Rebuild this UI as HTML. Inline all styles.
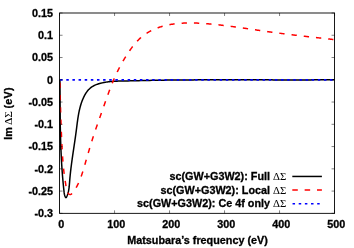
<!DOCTYPE html>
<html><head><meta charset="utf-8"><style>
html,body{margin:0;padding:0;background:#fff;}
svg{display:block;will-change:transform;opacity:0.999}
text{font-family:"Liberation Sans",sans-serif;font-weight:bold;font-size:10.8px;fill:#000;stroke:#000;stroke-width:0.3px}
.sym{font-family:"Liberation Serif",serif;font-weight:normal;font-size:10.85px;stroke:none}
</style></head><body>
<svg width="354" height="248" viewBox="0 0 354 248">
<rect width="354" height="248" fill="#fff"/>
<g><text x="61.35" y="228.2" text-anchor="middle">0</text><text x="116.35" y="228.2" text-anchor="middle">100</text><text x="171.35" y="228.2" text-anchor="middle">200</text><text x="226.35" y="228.2" text-anchor="middle">300</text><text x="281.35" y="228.2" text-anchor="middle">400</text><text x="336.35" y="228.2" text-anchor="middle">500</text><text x="53" y="16.90" text-anchor="end">0.15</text><text x="53" y="39.16" text-anchor="end">0.1</text><text x="53" y="61.42" text-anchor="end">0.05</text><text x="53" y="83.68" text-anchor="end">0</text><text x="53" y="105.94" text-anchor="end">-0.05</text><text x="53" y="128.21" text-anchor="end">-0.1</text><text x="53" y="150.47" text-anchor="end">-0.15</text><text x="53" y="172.73" text-anchor="end">-0.2</text><text x="53" y="194.99" text-anchor="end">-0.25</text><text x="53" y="217.25" text-anchor="end">-0.3</text></g>
<text x="197.5" y="243.5" text-anchor="middle">Matsubara’s frequency (eV)</text>
<text transform="translate(12.2,113.4) rotate(-90)" text-anchor="middle">Im <tspan class="sym" dx="-1" style="font-size:11.4px">ΔΣ</tspan><tspan dx="-0.6" style="letter-spacing:0.25px"> (eV)</tspan></text>
<g fill="none" stroke-width="1.5">
<path d="M59.85,79.76 L59.86,80.41 L59.86,81.07 L59.87,81.73 L59.88,82.38 L59.88,83.04 L59.89,83.70 L59.89,84.35 L59.90,85.01 L59.90,85.67 L59.90,86.32 L59.91,86.98 L59.91,87.64 L59.92,88.30 L59.92,88.95 L59.93,89.61 L59.93,90.27 L59.94,90.93 L59.94,91.58 L59.94,92.24 L59.95,92.90 L59.95,93.56 L59.96,94.22 L59.96,94.87 L59.97,95.53 L59.97,96.19 L59.97,96.85 L59.98,97.51 L59.98,98.16 L59.99,98.82 L59.99,99.48 L60.00,100.14 L60.00,100.80 L60.01,101.46 L60.01,102.11 L60.01,102.77 L60.02,103.43 L60.02,104.09 L60.03,104.75 L60.04,105.41 L60.04,106.07 L60.05,106.73 L60.05,107.38 L60.06,108.04 L60.06,108.70 L60.07,109.36 L60.07,110.02 L60.08,110.68 L60.09,111.34 L60.09,112.00 L60.10,112.65 L60.11,113.31 L60.12,113.97 L60.12,114.63 L60.13,115.29 L60.14,115.95 L60.15,116.61 L60.15,117.27 L60.16,117.93 L60.17,118.59 L60.18,119.24 L60.19,119.90 L60.20,120.56 L60.21,121.22 L60.22,121.88 L60.23,122.54 L60.24,123.20 L60.25,123.86 L60.26,124.52 L60.27,125.17 L60.28,125.83 L60.29,126.49 L60.31,127.15 L60.32,127.81 L60.33,128.47 L60.34,129.13 L60.36,129.79 L60.37,130.44 L60.39,131.10 L60.40,131.76 L60.42,132.42 L60.43,133.08 L60.45,133.74 L60.46,134.40 L60.48,135.05 L60.50,135.71 L60.51,136.37 L60.53,137.03 L60.55,137.69 L60.57,138.35 L60.58,139.00 L60.60,139.66 L60.62,140.32 L60.64,140.98 L60.66,141.64 L60.69,142.29 L60.71,142.95 L60.73,143.61 L60.75,144.27 L60.77,144.92 L60.80,145.58 L60.82,146.24 L60.85,146.90 L60.87,147.55 L60.90,148.21 L60.92,148.87 L60.95,149.53 L60.97,150.18 L61.00,150.84 L61.03,151.50 L61.06,152.15 L61.09,152.81 L61.12,153.47 L61.15,154.12 L61.18,154.78 L61.21,155.44 L61.24,156.09 L61.27,156.75 L61.31,157.40 L61.34,158.06 L61.38,158.72 L61.41,159.37 L61.45,160.03 L61.48,160.68 L61.52,161.34 L61.56,161.99 L61.60,162.65 L61.63,163.31 L61.67,163.96 L61.71,164.62 L61.75,165.27 L61.80,165.93 L61.84,166.58 L61.88,167.24 L61.92,167.89 L61.97,168.55 L62.01,169.20 L62.06,169.86 L62.11,170.51 L62.15,171.17 L62.20,171.82 L62.25,172.48 L62.30,173.14 L62.35,173.79 L62.40,174.45 L62.45,175.10 L62.51,175.76 L62.56,176.42 L62.61,177.07 L62.67,177.73 L62.73,178.39 L62.78,179.05 L62.84,179.70 L62.90,180.36 L62.96,181.02 L63.02,181.68 L63.08,182.34 L63.14,182.99 L63.20,183.65 L63.27,184.31 L63.33,184.97 L63.40,185.63 L63.47,186.29 L63.53,186.95 L63.60,187.61 L63.67,188.28 L63.74,188.94 L63.81,189.60 L63.88,190.26 L63.96,190.93 L64.03,191.59 L64.11,192.25 L64.19,192.92 L64.29,193.58 L64.37,194.03 L64.46,194.48 L64.57,194.92 L64.69,195.37 L64.83,195.83 L64.99,196.28 L65.18,196.72 L65.48,197.28 L65.89,197.59 L66.30,197.34 L66.60,196.89 L66.88,196.31 L67.14,195.70 L67.38,195.08 L67.60,194.46 L67.81,193.83 L68.00,193.19 L68.17,192.56 L68.33,191.92 L68.48,191.27 L68.61,190.63 L68.73,189.98 L68.84,189.33 L68.94,188.68 L69.03,188.02 L69.11,187.36 L69.19,186.70 L69.25,186.04 L69.32,185.38 L69.38,184.72 L69.43,184.06 L69.48,183.39 L69.54,182.73 L69.59,182.07 L69.64,181.40 L69.69,180.74 L69.74,180.08 L69.80,179.42 L69.85,178.75 L69.91,178.09 L69.97,177.43 L70.04,176.77 L70.10,176.11 L70.16,175.46 L70.23,174.80 L70.30,174.14 L70.37,173.48 L70.44,172.83 L70.51,172.17 L70.58,171.52 L70.66,170.86 L70.73,170.20 L70.81,169.55 L70.89,168.90 L70.96,168.24 L71.04,167.59 L71.13,166.94 L71.21,166.28 L71.29,165.63 L71.38,164.98 L71.46,164.33 L71.55,163.68 L71.63,163.02 L71.72,162.37 L71.81,161.72 L71.90,161.07 L71.99,160.42 L72.08,159.77 L72.17,159.12 L72.26,158.47 L72.35,157.82 L72.44,157.17 L72.54,156.52 L72.63,155.87 L72.72,155.22 L72.82,154.58 L72.91,153.93 L73.01,153.28 L73.10,152.63 L73.20,151.98 L73.30,151.33 L73.39,150.68 L73.49,150.03 L73.59,149.38 L73.68,148.74 L73.78,148.09 L73.88,147.44 L73.97,146.79 L74.07,146.14 L74.16,145.49 L74.26,144.84 L74.36,144.19 L74.45,143.54 L74.55,142.89 L74.65,142.24 L74.74,141.59 L74.84,140.94 L74.93,140.29 L75.02,139.64 L75.12,138.99 L75.21,138.34 L75.31,137.69 L75.40,137.04 L75.49,136.38 L75.58,135.73 L75.67,135.08 L75.76,134.43 L75.85,133.77 L75.94,133.12 L76.03,132.47 L76.11,131.81 L76.20,131.16 L76.29,130.50 L76.37,129.85 L76.45,129.19 L76.54,128.54 L76.62,127.88 L76.70,127.22 L76.79,126.57 L76.87,125.91 L76.95,125.25 L77.03,124.59 L77.12,123.94 L77.20,123.28 L77.29,122.63 L77.38,121.97 L77.47,121.31 L77.56,120.66 L77.65,120.00 L77.74,119.35 L77.84,118.69 L77.94,118.04 L78.04,117.39 L78.14,116.74 L78.25,116.09 L78.36,115.44 L78.47,114.79 L78.59,114.14 L78.70,113.49 L78.83,112.84 L78.96,112.20 L79.09,111.56 L79.22,110.91 L79.36,110.27 L79.51,109.63 L79.66,108.99 L79.81,108.36 L79.98,107.72 L80.14,107.09 L80.31,106.46 L80.49,105.83 L80.67,105.20 L80.86,104.57 L81.06,103.95 L81.26,103.32 L81.47,102.70 L81.69,102.09 L81.91,101.47 L82.14,100.85 L82.38,100.24 L82.62,99.63 L82.88,99.03 L83.14,98.42 L83.41,97.82 L83.69,97.22 L83.97,96.63 L84.27,96.04 L84.57,95.45 L84.89,94.88 L85.22,94.31 L85.55,93.74 L85.90,93.19 L86.26,92.64 L86.63,92.11 L87.02,91.58 L87.41,91.07 L87.82,90.57 L88.24,90.08 L88.68,89.61 L89.13,89.15 L89.59,88.70 L90.07,88.27 L90.56,87.86 L91.07,87.46 L91.59,87.08 L92.13,86.72 L92.68,86.38 L93.25,86.05 L93.83,85.74 L94.42,85.45 L95.02,85.17 L95.63,84.90 L96.25,84.65 L96.87,84.41 L97.51,84.18 L98.15,83.97 L98.58,83.83 L99.01,83.70 L99.44,83.58 L99.87,83.45 L100.31,83.34 L100.75,83.22 L101.19,83.11 L101.62,83.01 L102.28,82.86 L102.94,82.72 L103.59,82.58 L104.25,82.45 L104.91,82.34 L105.56,82.22 L106.22,82.12 L106.87,82.02 L107.53,81.92 L108.18,81.84 L108.84,81.76 L109.49,81.68 L110.14,81.61 L110.80,81.55 L111.45,81.49 L112.10,81.43 L112.75,81.38 L113.41,81.34 L114.06,81.29 L114.71,81.25 L115.36,81.22 L116.02,81.19 L116.67,81.16 L117.32,81.13 L117.98,81.11 L118.63,81.09 L119.28,81.07 L121.44,81.01 L123.60,80.97 L125.76,80.93 L127.92,80.89 L130.09,80.84 L132.26,80.79 L134.44,80.75 L136.61,80.70 L138.79,80.65 L140.96,80.60 L143.14,80.55 L145.32,80.50 L147.50,80.45 L149.68,80.41 L151.85,80.37 L154.03,80.33 L156.21,80.29 L158.38,80.25 L160.56,80.22 L162.74,80.18 L164.91,80.15 L167.09,80.12 L169.27,80.09 L171.44,80.07 L173.62,80.04 L175.79,80.02 L177.97,79.99 L180.14,79.97 L182.32,79.95 L184.49,79.94 L186.67,79.92 L188.84,79.90 L191.02,79.89 L193.19,79.88 L195.36,79.86 L197.54,79.85 L199.71,79.84 L201.89,79.84 L204.06,79.83 L206.23,79.82 L208.41,79.81 L210.58,79.81 L212.75,79.81 L214.93,79.80 L217.10,79.80 L219.27,79.80 L221.44,79.80 L223.62,79.80 L225.79,79.80 L227.96,79.80 L230.14,79.80 L232.31,79.80 L234.48,79.80 L236.65,79.80 L238.83,79.81 L241.00,79.81 L243.17,79.81 L245.35,79.82 L247.52,79.82 L249.69,79.83 L251.86,79.83 L254.04,79.84 L256.21,79.84 L258.38,79.85 L260.56,79.85 L262.73,79.86 L264.90,79.86 L267.07,79.87 L269.25,79.87 L271.42,79.87 L273.59,79.88 L275.77,79.88 L277.94,79.89 L280.12,79.89 L282.29,79.89 L284.46,79.89 L286.64,79.90 L288.81,79.90 L290.98,79.90 L293.16,79.90 L295.33,79.90 L297.51,79.90 L299.68,79.90 L301.86,79.89 L304.03,79.89 L306.21,79.89 L308.38,79.88 L310.56,79.88 L312.73,79.87 L314.91,79.86 L317.09,79.85 L319.26,79.84 L321.44,79.83 L323.62,79.82 L325.79,79.81 L327.97,79.80 L330.15,79.78 L332.32,79.76 L334.50,79.75 L334.50,79.75" stroke="#000" stroke-width="1.5"/>
<path d="M59.91,79.67 L59.92,80.33 L59.93,80.98 L59.95,81.64 L59.96,82.30 L59.97,82.95 L59.98,83.61 L59.99,84.26 L60.00,84.92 L60.02,85.57 L60.03,86.22 L60.04,86.88 L60.05,87.53 L60.06,88.19 L60.08,88.84 L60.09,89.49 L60.10,90.15 L60.12,90.80 L60.13,91.45 L60.14,92.10 L60.16,92.76 L60.17,93.41 L60.18,94.06 L60.20,94.71 L60.21,95.36 L60.23,96.02 L60.24,96.67 L60.26,97.32 L60.27,97.97 L60.29,98.62 L60.30,99.27 L60.32,99.92 L60.33,100.58 L60.35,101.23 L60.37,101.88 L60.38,102.53 L60.40,103.18 L60.41,103.83 L60.43,104.48 L60.45,105.13 L60.47,105.78 L60.48,106.43 L60.50,107.08 L60.52,107.73 L60.54,108.38 L60.55,109.03 L60.57,109.68 L60.59,110.33 L60.61,110.98 L60.63,111.63 L60.65,112.28 L60.67,112.93 L60.69,113.58 L60.71,114.23 L60.73,114.88 L60.75,115.53 L60.77,116.18 L60.79,116.83 L60.81,117.48 L60.83,118.13 L60.85,118.78 L60.87,119.43 L60.90,120.08 L60.92,120.73 L60.94,121.38 L60.96,122.03 L60.99,122.68 L61.01,123.33 L61.03,123.98 L61.06,124.63 L61.08,125.28 L61.10,125.93 L61.13,126.59 L61.15,127.24 L61.18,127.89 L61.20,128.54 L61.23,129.19 L61.25,129.84 L61.28,130.49 L61.30,131.14 L61.33,131.80 L61.36,132.45 L61.38,133.10 L61.41,133.75 L61.44,134.40 L61.46,135.06 L61.49,135.71 L61.52,136.36 L61.55,137.01 L61.58,137.67 L61.61,138.32 L61.63,138.97 L61.66,139.63 L61.69,140.28 L61.72,140.94 L61.75,141.59 L61.78,142.24 L61.82,142.90 L61.85,143.55 L61.88,144.21 L61.91,144.86 L61.94,145.52 L61.97,146.18 L62.01,146.83 L62.04,147.49 L62.07,148.14 L62.11,148.80 L62.14,149.45 L62.18,150.11 L62.21,150.76 L62.25,151.42 L62.29,152.07 L62.33,152.73 L62.36,153.38 L62.40,154.04 L62.44,154.69 L62.49,155.35 L62.53,156.00 L62.57,156.65 L62.61,157.30 L62.66,157.96 L62.70,158.61 L62.75,159.26 L62.80,159.91 L62.85,160.56 L62.90,161.20 L62.95,161.85 L63.00,162.50 L63.06,163.15 L63.11,163.79 L63.17,164.44 L63.22,165.08 L63.28,165.72 L63.34,166.36 L63.41,167.00 L63.47,167.64 L63.53,168.28 L63.60,168.92 L63.67,169.56 L63.74,170.19 L63.81,170.82 L63.88,171.46 L63.96,172.09 L64.03,172.72 L64.11,173.35 L64.19,173.97 L64.27,174.60 L64.36,175.23 L64.44,175.85 L64.53,176.48 L64.62,177.11 L64.71,177.74 L64.80,178.38 L64.90,179.02 L64.99,179.66 L65.09,180.31 L65.19,180.97 L65.30,181.63 L65.40,182.30 L65.51,182.98 L65.62,183.67 L65.73,184.37 L65.85,185.08 L65.96,185.80 L66.08,186.53 L66.20,187.27 L66.34,188.02 L66.48,188.76 L66.64,189.49 L66.82,190.20 L67.03,190.89 L67.26,191.54 L67.53,192.16 L67.83,192.74 L68.18,193.26 L68.57,193.72 L69.01,194.12 L69.48,194.41 L69.96,194.58 L70.44,194.58 L70.89,194.40 L71.33,194.07 L71.75,193.65 L72.15,193.19 L72.55,192.73 L72.94,192.26 L73.33,191.78 L73.70,191.29 L74.07,190.79 L74.42,190.29 L74.77,189.78 L75.12,189.26 L75.45,188.74 L75.78,188.21 L76.10,187.67 L76.42,187.13 L76.73,186.58 L77.03,186.03 L77.33,185.47 L77.62,184.91 L77.90,184.34 L78.18,183.77 L78.45,183.19 L78.72,182.60 L78.98,182.02 L79.24,181.42 L79.49,180.83 L79.74,180.23 L79.98,179.63 L80.22,179.02 L80.45,178.41 L80.68,177.80 L80.91,177.18 L81.13,176.56 L81.35,175.94 L81.56,175.32 L81.78,174.69 L81.99,174.07 L82.19,173.44 L82.40,172.81 L82.60,172.17 L82.80,171.54 L83.00,170.91 L83.19,170.27 L83.38,169.64 L83.58,169.00 L83.77,168.37 L83.95,167.73 L84.14,167.09 L84.33,166.46 L84.51,165.82 L84.70,165.19 L84.88,164.56 L85.07,163.92 L85.25,163.29 L85.44,162.66 L85.62,162.03 L85.80,161.40 L85.98,160.77 L86.17,160.14 L86.35,159.52 L86.53,158.89 L86.71,158.26 L86.89,157.64 L87.08,157.01 L87.26,156.39 L87.44,155.77 L87.62,155.14 L87.80,154.52 L87.99,153.90 L88.17,153.28 L88.35,152.66 L88.53,152.04 L88.71,151.42 L88.90,150.80 L89.08,150.18 L89.27,149.56 L89.45,148.94 L89.63,148.32 L89.82,147.71 L90.00,147.09 L90.19,146.47 L90.38,145.85 L90.56,145.24 L90.75,144.62 L90.94,144.01 L91.13,143.39 L91.32,142.77 L91.51,142.16 L91.70,141.54 L91.89,140.93 L92.09,140.31 L92.28,139.69 L92.48,139.08 L92.67,138.46 L92.87,137.85 L93.07,137.23 L93.27,136.62 L93.47,136.00 L93.67,135.38 L93.87,134.77 L94.07,134.15 L94.28,133.54 L94.48,132.92 L94.69,132.30 L94.89,131.69 L95.10,131.07 L95.31,130.45 L95.52,129.84 L95.73,129.22 L95.94,128.61 L96.15,127.99 L96.36,127.37 L96.57,126.76 L96.79,126.14 L97.00,125.52 L97.21,124.91 L97.43,124.29 L97.64,123.67 L97.86,123.06 L98.07,122.44 L98.29,121.82 L98.51,121.21 L98.72,120.59 L98.94,119.97 L99.16,119.36 L99.38,118.74 L99.59,118.12 L99.81,117.51 L100.03,116.89 L100.25,116.28 L100.47,115.66 L100.69,115.04 L100.91,114.43 L101.13,113.81 L101.34,113.19 L101.56,112.58 L101.78,111.96 L102.00,111.35 L102.22,110.73 L102.44,110.11 L102.66,109.50 L102.87,108.88 L103.09,108.27 L103.31,107.65 L103.53,107.04 L103.75,106.42 L103.96,105.81 L104.18,105.19 L104.40,104.58 L104.61,103.96 L104.83,103.35 L105.04,102.73 L105.26,102.12 L105.48,101.50 L105.69,100.89 L105.91,100.27 L106.13,99.66 L106.34,99.05 L106.56,98.43 L106.78,97.82 L107.00,97.21 L107.21,96.60 L107.43,95.98 L107.65,95.37 L107.87,94.76 L108.09,94.15 L108.32,93.54 L108.54,92.93 L108.76,92.32 L108.99,91.71 L109.21,91.10 L109.44,90.49 L109.67,89.88 L109.89,89.27 L110.12,88.67 L110.36,88.06 L110.59,87.45 L110.82,86.85 L111.06,86.24 L111.29,85.64 L111.53,85.03 L111.77,84.43 L112.02,83.83 L112.26,83.23 L112.50,82.62 L112.75,82.02 L113.00,81.42 L113.25,80.82 L113.50,80.22 L113.76,79.63 L114.02,79.03 L114.28,78.43 L114.54,77.84 L114.80,77.24 L115.07,76.65 L115.34,76.05 L115.61,75.46 L115.88,74.87 L116.15,74.28 L116.43,73.69 L116.71,73.10 L116.99,72.51 L117.28,71.92 L117.56,71.33 L117.85,70.75 L118.14,70.16 L118.43,69.58 L118.73,69.00 L119.03,68.42 L119.33,67.84 L119.63,67.26 L119.93,66.68 L120.24,66.10 L120.55,65.53 L120.86,64.95 L121.17,64.38 L121.49,63.81 L121.81,63.24 L122.13,62.67 L122.45,62.10 L122.77,61.53 L123.10,60.97 L123.43,60.40 L123.76,59.84 L124.10,59.28 L124.43,58.72 L124.77,58.16 L125.11,57.61 L125.46,57.05 L125.80,56.50 L126.15,55.94 L126.50,55.39 L126.85,54.84 L127.21,54.30 L127.57,53.75 L127.93,53.21 L128.29,52.66 L128.65,52.12 L129.02,51.58 L129.39,51.05 L129.76,50.51 L130.13,49.98 L130.51,49.45 L130.89,48.92 L131.27,48.39 L131.66,47.86 L132.04,47.34 L132.44,46.82 L132.83,46.31 L133.23,45.79 L133.63,45.28 L134.04,44.78 L134.45,44.27 L134.86,43.78 L135.28,43.28 L135.71,42.79 L136.14,42.31 L136.57,41.82 L137.01,41.35 L137.45,40.88 L137.90,40.41 L138.36,39.95 L138.82,39.49 L139.28,39.04 L139.76,38.60 L140.23,38.16 L140.72,37.73 L141.21,37.30 L141.71,36.88 L142.21,36.47 L142.72,36.07 L143.24,35.67 L143.76,35.27 L144.29,34.89 L144.82,34.51 L145.36,34.13 L145.90,33.77 L146.44,33.41 L147.00,33.05 L147.55,32.71 L148.11,32.37 L148.67,32.04 L149.24,31.71 L149.81,31.40 L150.39,31.09 L150.96,30.78 L151.54,30.49 L152.13,30.20 L152.71,29.91 L153.30,29.64 L153.89,29.37 L154.49,29.11 L155.08,28.85 L155.68,28.61 L156.28,28.36 L156.89,28.13 L157.49,27.90 L158.10,27.68 L158.71,27.46 L159.32,27.25 L159.94,27.05 L160.56,26.85 L161.17,26.66 L161.80,26.47 L162.42,26.29 L163.04,26.12 L163.67,25.95 L164.30,25.79 L164.93,25.63 L165.56,25.48 L166.19,25.33 L166.82,25.19 L167.46,25.05 L168.10,24.92 L168.74,24.79 L169.37,24.67 L170.02,24.56 L170.66,24.44 L171.30,24.34 L171.94,24.23 L172.59,24.14 L173.23,24.04 L173.88,23.96 L174.53,23.87 L175.17,23.79 L175.82,23.72 L176.47,23.64 L177.12,23.58 L177.77,23.51 L178.42,23.45 L179.07,23.40 L179.72,23.34 L180.37,23.30 L181.02,23.25 L181.67,23.21 L182.32,23.17 L182.98,23.14 L183.63,23.10 L184.28,23.08 L184.93,23.05 L185.58,23.03 L186.23,23.01 L186.88,23.00 L187.53,22.98 L188.18,22.97 L188.84,22.97 L189.49,22.96 L190.14,22.96 L190.79,22.96 L191.44,22.97 L192.09,22.97 L192.74,22.98 L193.39,23.00 L194.04,23.01 L194.69,23.03 L195.35,23.05 L196.00,23.07 L196.65,23.09 L197.30,23.12 L197.95,23.15 L198.60,23.18 L199.25,23.21 L199.90,23.24 L200.55,23.28 L201.20,23.32 L201.85,23.36 L202.50,23.40 L203.15,23.44 L203.80,23.49 L204.45,23.53 L205.10,23.58 L205.75,23.63 L206.40,23.68 L207.05,23.74 L207.70,23.79 L208.35,23.84 L209.00,23.90 L209.65,23.96 L210.30,24.02 L210.94,24.08 L211.59,24.14 L212.24,24.20 L212.89,24.26 L213.54,24.33 L214.19,24.39 L214.84,24.46 L215.48,24.53 L216.13,24.59 L216.78,24.66 L217.43,24.73 L218.07,24.80 L218.72,24.87 L219.37,24.95 L220.02,25.02 L220.66,25.09 L221.31,25.17 L221.96,25.24 L222.60,25.32 L223.25,25.40 L223.90,25.47 L224.55,25.55 L225.19,25.63 L225.84,25.71 L226.48,25.79 L227.13,25.87 L227.78,25.95 L228.42,26.04 L229.07,26.12 L229.72,26.20 L230.36,26.29 L231.01,26.37 L231.65,26.46 L232.30,26.54 L232.94,26.63 L233.59,26.72 L234.24,26.80 L234.88,26.89 L235.53,26.98 L236.17,27.07 L236.82,27.16 L237.46,27.25 L238.11,27.34 L238.75,27.43 L239.40,27.52 L240.04,27.61 L240.69,27.70 L241.33,27.79 L241.98,27.89 L242.62,27.98 L243.27,28.07 L243.91,28.16 L244.56,28.26 L245.20,28.35 L245.85,28.44 L246.49,28.54 L247.14,28.63 L247.78,28.73 L248.43,28.82 L249.07,28.91 L249.72,29.01 L250.36,29.10 L251.01,29.20 L251.65,29.29 L252.30,29.39 L252.94,29.48 L253.58,29.58 L254.23,29.67 L254.87,29.77 L255.52,29.86 L256.16,29.96 L256.81,30.05 L257.45,30.15 L258.10,30.24 L258.74,30.33 L259.39,30.43 L260.03,30.52 L260.68,30.62 L261.32,30.71 L261.96,30.80 L262.61,30.90 L263.25,30.99 L263.90,31.08 L264.54,31.18 L265.19,31.27 L265.83,31.36 L266.48,31.45 L267.12,31.55 L267.77,31.64 L268.41,31.73 L269.06,31.82 L269.70,31.91 L270.35,32.00 L270.99,32.09 L271.64,32.18 L272.28,32.27 L272.93,32.35 L273.57,32.44 L274.22,32.53 L274.87,32.62 L275.51,32.70 L276.16,32.79 L276.80,32.87 L277.45,32.96 L278.09,33.04 L278.74,33.13 L279.38,33.21 L280.03,33.30 L280.68,33.38 L281.32,33.46 L281.97,33.55 L282.61,33.63 L283.26,33.71 L283.91,33.79 L284.55,33.87 L285.20,33.95 L285.84,34.03 L286.49,34.11 L287.14,34.19 L287.78,34.27 L288.43,34.35 L289.08,34.43 L289.72,34.51 L290.37,34.59 L291.01,34.67 L291.66,34.75 L292.31,34.82 L292.95,34.90 L293.60,34.98 L294.25,35.06 L294.89,35.13 L295.54,35.21 L296.19,35.29 L296.83,35.36 L297.48,35.44 L298.13,35.51 L298.77,35.59 L299.42,35.66 L300.07,35.74 L300.71,35.81 L301.36,35.89 L302.01,35.96 L302.66,36.04 L303.30,36.11 L303.95,36.19 L304.60,36.26 L305.24,36.33 L305.89,36.41 L306.54,36.48 L307.19,36.56 L307.83,36.63 L308.48,36.70 L309.13,36.78 L309.77,36.85 L310.42,36.92 L311.07,36.99 L311.72,37.07 L312.36,37.14 L313.01,37.21 L313.66,37.29 L314.31,37.36 L314.95,37.43 L315.60,37.50 L316.25,37.58 L316.90,37.65 L317.54,37.72 L318.19,37.79 L318.84,37.87 L319.49,37.94 L320.13,38.01 L320.78,38.09 L321.43,38.16 L322.08,38.23 L322.72,38.30 L323.37,38.38 L324.02,38.45 L324.67,38.52 L325.31,38.60 L325.96,38.67 L326.61,38.74 L327.26,38.81 L327.91,38.89 L328.55,38.96 L329.20,39.04 L329.85,39.11 L330.50,39.18 L331.14,39.26 L331.79,39.33 L332.44,39.40 L333.09,39.48 L333.41,39.52" stroke="#f00" stroke-dasharray="5.3 6.995" stroke-dashoffset="9.295"/>
<path d="M59.63,79.76 L59.64,80.41 L59.64,81.07 L59.65,81.73 L59.66,82.38 L59.66,83.04 L59.67,83.70 L59.67,84.35 L59.68,85.01 L59.68,85.67 L59.68,86.32 L59.69,86.98 L59.69,87.64 L59.70,88.30 L59.70,88.95 L59.71,89.61 L59.71,90.27 L59.72,90.93 L59.72,91.58 L59.72,92.24 L59.73,92.90 L59.73,93.56 L59.74,94.22 L59.74,94.87 L59.75,95.53 L59.75,96.19 L59.75,96.85 L59.76,97.51 L59.76,98.16 L59.77,98.82 L59.77,99.48 L59.78,100.14 L59.78,100.80 L59.79,101.46 L59.79,102.11 L59.79,102.77 L59.80,103.43 L59.80,104.09 L59.81,104.75 L59.82,105.41 L59.82,106.07 L59.83,106.73 L59.83,107.38 L59.84,108.04 L59.84,108.70 L59.85,109.36 L59.85,110.02 L59.86,110.68 L59.87,111.34 L59.87,112.00 L59.88,112.65 L59.89,113.31 L59.90,113.97 L59.90,114.63 L59.91,115.29 L59.92,115.95 L59.93,116.61 L59.93,117.27 L59.94,117.93 L59.95,118.59 L59.96,119.24 L59.97,119.90 L59.98,120.56 L59.99,121.22 L60.00,121.88 L60.01,122.54 L60.02,123.20 L60.03,123.86 L60.04,124.52 L60.05,125.17 L60.06,125.83 L60.07,126.49 L60.09,127.15 L60.10,127.81 L60.11,128.47 L60.12,129.13 L60.14,129.79 L60.15,130.44 L60.17,131.10 L60.18,131.76 L60.20,132.42 L60.21,133.08 L60.23,133.74 L60.24,134.40 L60.26,135.05 L60.28,135.71 L60.29,136.37 L60.31,137.03 L60.33,137.69 L60.35,138.35 L60.36,139.00 L60.38,139.66 L60.40,140.32 L60.42,140.98 L60.44,141.64 L60.47,142.29 L60.49,142.95 L60.51,143.61 L60.53,144.27 L60.55,144.92 L60.58,145.58 L60.60,146.24 L60.63,146.90 L60.65,147.55 L60.68,148.21 L60.70,148.87 L60.73,149.53 L60.75,149.96" stroke="#000" stroke-width="1.05"/>
<path d="M60.15,79.95H334.55" stroke="#00f" stroke-width="1.7" stroke-dasharray="2.5 3.635"/>
</g>
<g stroke="#000" stroke-width="0.9" fill="none">
<rect x="59.55" y="13.0" width="275.0" height="200.35"/>
<path stroke-width="0.5" d="M59.55,213.35v-3M59.55,13.0v3"/><path stroke-width="0.5" d="M114.55,213.35v-3M114.55,13.0v3"/><path stroke-width="0.5" d="M169.55,213.35v-3M169.55,13.0v3"/><path stroke-width="0.5" d="M224.55,213.35v-3M224.55,13.0v3"/><path stroke-width="0.5" d="M279.55,213.35v-3M279.55,13.0v3"/><path stroke-width="0.5" d="M334.55,213.35v-3M334.55,13.0v3"/><path stroke-width="0.5" d="M59.55,13.00h3M334.55,13.00h-3"/><path stroke-width="0.5" d="M59.55,35.26h3M334.55,35.26h-3"/><path stroke-width="0.5" d="M59.55,57.52h3M334.55,57.52h-3"/><path stroke-width="0.5" d="M59.55,79.78h3M334.55,79.78h-3"/><path stroke-width="0.5" d="M59.55,102.04h3M334.55,102.04h-3"/><path stroke-width="0.5" d="M59.55,124.31h3M334.55,124.31h-3"/><path stroke-width="0.5" d="M59.55,146.57h3M334.55,146.57h-3"/><path stroke-width="0.5" d="M59.55,168.83h3M334.55,168.83h-3"/><path stroke-width="0.5" d="M59.55,191.09h3M334.55,191.09h-3"/><path stroke-width="0.5" d="M59.55,213.35h3M334.55,213.35h-3"/>
</g>
<g fill="none" stroke-width="1.5">
<path d="M292.3,176.45H321.9" stroke="#000"/>
<path d="M292.3,190.05H321.9" stroke="#f00" stroke-dasharray="5.5 6.85"/>
<path d="M292.55,203.75H321.9" stroke="#00f" stroke-width="1.7" stroke-dasharray="2.5 3.66"/>
</g>
<text x="286.3" y="179.8" text-anchor="end">sc(GW+G3W2): Full <tspan class="sym" dx="0">ΔΣ</tspan></text>
<text x="286.3" y="193.5" text-anchor="end">sc(GW+G3W2): Local <tspan class="sym" dx="0">ΔΣ</tspan></text>
<text x="286.3" y="206.9" text-anchor="end">sc(GW+G3W2): Ce 4f only <tspan class="sym" dx="0">ΔΣ</tspan></text>
</svg>
</body></html>
